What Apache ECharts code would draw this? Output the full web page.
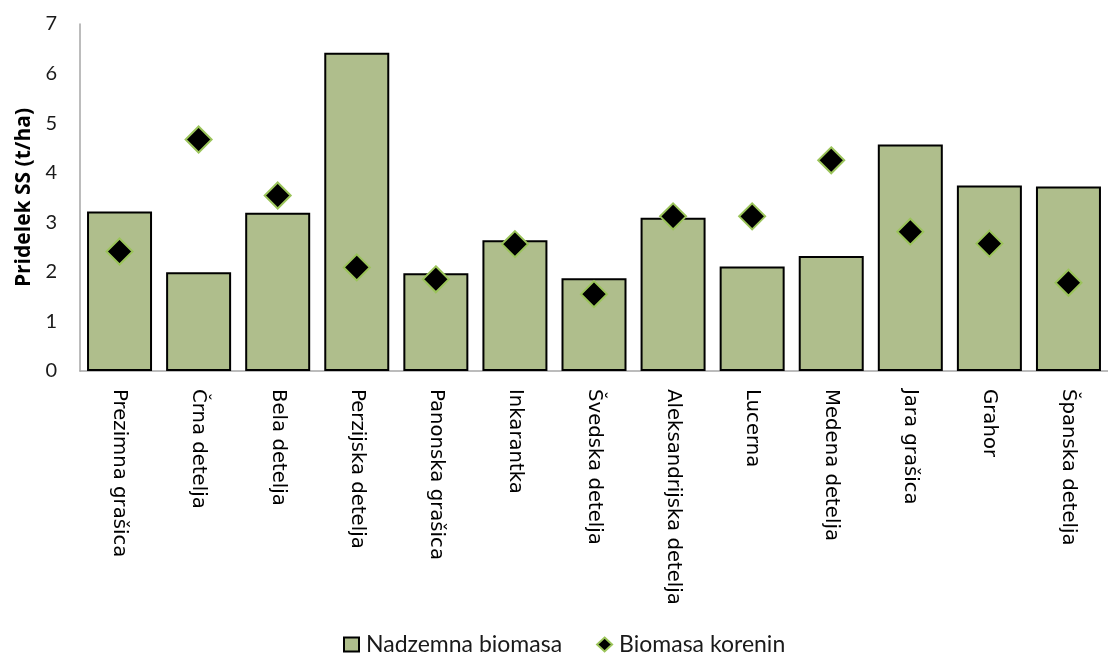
<!DOCTYPE html>
<html>
<head>
<meta charset="utf-8">
<script src="https://cdn.jsdelivr.net/npm/echarts@6/dist/echarts.min.js"></script>
<style>
  html, body { margin: 0; padding: 0; background: #fff; }
  #chart { width: 1108px; height: 658px; }
</style>
</head>
<body>
<div id="chart"></div>
<script>
// Crop species
const categories = [
  'Prezimna grašica', 'Črna detelja', 'Bela detelja', 'Perzijska detelja',
  'Panonska grašica', 'Inkarantka', 'Švedska detelja', 'Aleksandrijska detelja',
  'Lucerna', 'Medena detelja', 'Jara grašica', 'Grahor', 'Španska detelja'
];
// Above-ground biomass (t/ha)
const nadzemnaBiomasa = [3.22, 1.99, 3.19, 6.42, 1.97, 2.64, 1.87, 3.09, 2.11, 2.32, 4.57, 3.74, 3.72];
// Root biomass (t/ha)
const biomasaKorenin = [2.41, 4.67, 3.54, 2.09, 1.85, 2.56, 1.55, 3.12, 3.12, 4.25, 2.81, 2.57, 1.78];
const yTicks = [0, 1, 2, 3, 4, 5, 6, 7];

const FONT = 'Lato, "Open Sans", sans-serif';
const FONT_WIDE = '"DejaVu Sans", "Open Sans", sans-serif';
const chart = echarts.init(document.getElementById('chart'));
chart.setOption({
  animation: false,
  backgroundColor: '#ffffff',
  textStyle: { fontFamily: FONT },
  grid: { left: 80, top: 24, width: 1040, bottom: 287, containLabel: false },
  legend: {
    top: 628,
    left: 338,
    itemGap: 34,
    itemWidth: 15,
    itemHeight: 14,
    textStyle: { fontSize: 23, color: '#1a1a1a', fontFamily: FONT, padding: [0, 0, 0, 2] },
    data: [
      { name: 'Nadzemna biomasa', icon: 'rect' },
      { name: 'Biomasa korenin', icon: 'diamond' }
    ]
  },
  xAxis: {
    type: 'category',
    data: categories,
    boundaryGap: true,
    axisLine: { show: true, lineStyle: { color: '#a6a6a6', width: 1.5 } },
    axisTick: { show: false },
    axisLabel: {
      rotate: -90,
      interval: 0,
      margin: 18,
      fontSize: 19.7,
      color: '#000',
      fontFamily: FONT_WIDE
    },
    splitLine: { show: false }
  },
  yAxis: {
    type: 'value',
    min: yTicks[0],
    max: yTicks[yTicks.length - 1],
    interval: 1,
    name: 'Pridelek SS (t/ha)',
    nameLocation: 'middle',
    nameGap: 45,
    nameRotate: 90,
    nameTextStyle: { fontSize: 21, fontWeight: 'bold', color: '#000', fontFamily: '"Open Sans", Lato, sans-serif' },
    axisLine: { show: true, lineStyle: { color: '#a6a6a6', width: 1.5 } },
    axisTick: { show: false },
    axisLabel: { fontSize: 20, color: '#1a1a1a', margin: 23, fontFamily: FONT },
    splitLine: { show: false }
  },
  series: [
    {
      name: 'Nadzemna biomasa',
      type: 'bar',
      data: nadzemnaBiomasa,
      barWidth: 65,
      itemStyle: { color: '#afbe8c', borderColor: '#000', borderWidth: 2 }
    },
    {
      name: 'Biomasa korenin',
      type: 'scatter',
      data: biomasaKorenin,
      symbol: 'diamond',
      symbolSize: 26,
      z: 5,
      itemStyle: { color: '#000', borderColor: '#9bc45a', borderWidth: 2, opacity: 1 }
    }
  ]
});
</script>
</body>
</html>
